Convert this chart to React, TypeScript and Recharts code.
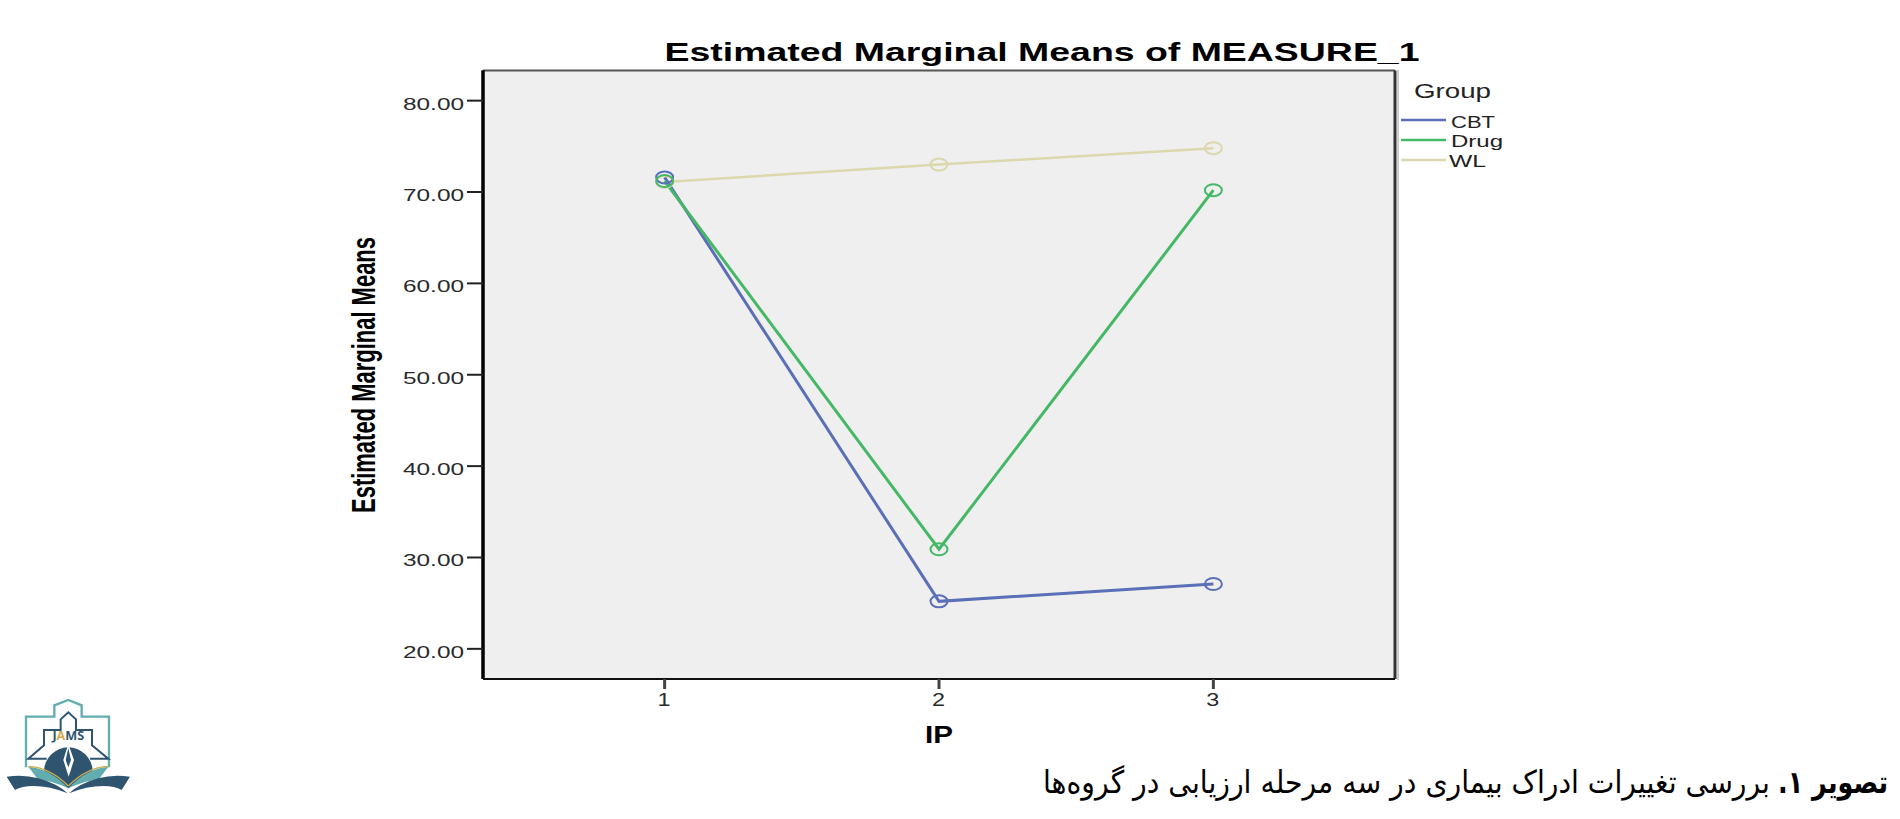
import React from "react";
import { LineChart, Line, XAxis, YAxis, ReferenceArea, ReferenceLine } from "recharts";

const ipLevels = [1, 2, 3];
const cbtValues = [71.6, 25.2, 27.1];
const drugValues = [71.2, 30.9, 70.2];
const wlValues = [71.1, 73.0, 74.8];
const yTicks = [20, 30, 40, 50, 60, 70, 80];
const yDomain = [16.7, 83.3];
const xDomain = [0.338, 3.662];
const legendItems = [
  { name: "CBT", color: "#5b6fb8", baseline: 128, y: 120, x: 1451, len: 44 },
  { name: "Drug", color: "#45b866", baseline: 147, y: 140, x: 1451, len: 52 },
  { name: "WL", color: "#dcd8ae", baseline: 167, y: 160, x: 1449, len: 37 },
];
const chartTitle = "Estimated Marginal Means of MEASURE_1";
const yTitle = "Estimated Marginal Means";
const xTitle = "IP";
const legendTitle = "Group";
const captionBold = "\u200Fتصویر ۱.\u200F";
const captionRest = "بررسی تغییرات ادراک بیماری در سه مرحله ارزیابی در گروه‌ها";

const rows = ipLevels.map((ip, i) => ({ ip, CBT: cbtValues[i], Drug: drugValues[i], WL: wlValues[i] }));
const SANS = "'Liberation Sans', Arial, sans-serif";
const ARABIC = "'DejaVu Sans', 'Noto Sans', serif";

const YTick = (p: any) => (
  <text x={403} y={p.y + 9} fontFamily={SANS} fontSize={17} fill="#2a2a2a" textLength={61} lengthAdjust="spacingAndGlyphs">
    {Number(p.payload.value).toFixed(2)}
  </text>
);
const XTick = (p: any) => (
  <text
    x={p.x - 7}
    y={706}
    fontFamily={SANS}
    fontSize={18}
    fill="#2a2a2a"
    textLength={13}
    lengthAdjust="spacingAndGlyphs"
  >
    {p.payload.value}
  </text>
);

const ellipseDot = (color: string) => (p: any) => (
  <ellipse key={p.index} cx={p.cx} cy={p.cy} rx={8.5} ry={6} fill="none" stroke={color} strokeWidth={2} />
);

const Logo = () => (
  <g transform="translate(0,680) scale(0.3333)">
    <path d="M78 262 V110 H163 V76 L205 60 L245 76 V110 H327 V262" fill="none" stroke="#62adb0" strokeWidth={7} />
    <path d="M140 236 H85 L132 196 V150 H182 V118 L205 97 L228 118 V150 H276 V196 L325 236 H270" fill="none" stroke="#2f5470" strokeWidth={6} />
    <path d="M132 275 A73 73 0 0 1 278 275 L205 325 Z" fill="#2f5470" />
    <path d="M205 192 L222 240 L206 290 L190 240 Z" fill="#ffffff" />
    <path d="M205 205 L213 240 L205 262 L197 240 Z" fill="#2f5470" />
    <path d="M85 260 Q150 265 205 325 Q150 300 115 300 Z" fill="#62adb0" />
    <path d="M325 260 Q260 265 205 325 Q260 300 295 300 Z" fill="#62adb0" />
    <path d="M85 259 Q150 262 205 318" fill="none" stroke="#d3ad4a" strokeWidth={4} />
    <path d="M325 259 Q260 262 205 318" fill="none" stroke="#d3ad4a" strokeWidth={4} />
    <path d="M20 290 Q70 282 115 295 Q170 310 203 340 Q150 318 100 318 Q65 318 45 330 Z" fill="#2f5470" />
    <path d="M390 290 Q340 282 295 295 Q240 310 207 340 Q260 318 310 318 Q345 318 365 330 Z" fill="#2f5470" />
    <text x={205} y={181} textAnchor="middle" fontFamily="'Open Sans', sans-serif" fontWeight={700} fontSize={38} fill="#2f5470">
      J<tspan fill="#d3ad4a">A</tspan>MS
    </text>
  </g>
);

export default function App() {
  return (
    <div style={{ position: "absolute", left: 0, top: 0, width: 1900, height: 819, background: "#fff" }}>
      <LineChart width={1900} height={819} data={rows} margin={{ top: 70.5, right: 505, bottom: 0, left: 0 }}>
        <XAxis
          dataKey="ip"
          type="number"
          domain={xDomain}
          ticks={ipLevels}
          allowDataOverflow
          height={140}
          tickSize={10}
          tick={XTick}
          tickLine={{ stroke: "#444", strokeWidth: 3 }}
          axisLine={{ stroke: "#111", strokeWidth: 2 }}
        />
        <YAxis
          type="number"
          domain={yDomain}
          ticks={yTicks}
          allowDataOverflow
          width={483}
          tickSize={16}
          tick={YTick}
          tickLine={{ stroke: "#222", strokeWidth: 2 }}
          axisLine={{ stroke: "#000", strokeWidth: 3 }}
        />
        <ReferenceArea x1={xDomain[0]} x2={xDomain[1]} y1={yDomain[0]} y2={yDomain[1]} fill="#efefef" fillOpacity={1} stroke="none" />
        <ReferenceLine y={yDomain[1]} stroke="#555" strokeWidth={2} />
        <ReferenceLine x={xDomain[1]} stroke="#333" strokeWidth={3} />
        <ReferenceLine y={yDomain[0]} stroke="#111" strokeWidth={2} />
        <ReferenceLine x={xDomain[0]} stroke="#000" strokeWidth={3} />
        {[
          { key: "WL", color: legendItems[2].color, width: 2.5 },
          { key: "CBT", color: legendItems[0].color, width: 3 },
          { key: "Drug", color: legendItems[1].color, width: 3 },
        ].map((s) => (
          <Line
            key={s.key}
            dataKey={s.key}
            type="linear"
            stroke={s.color}
            strokeWidth={s.width}
            dot={ellipseDot(s.color)}
            isAnimationActive={false}
            legendType="none"
          />
        ))}

        <line x1={1398} x2={1398} y1={70} y2={680} stroke="#cfcfcf" strokeWidth={2} />
        <text x={664.5} y={60.5} fontFamily={SANS} fontWeight={700} fontSize={25} fill="#000" textLength={755} lengthAdjust="spacingAndGlyphs">
          {chartTitle}
        </text>
        <text
          transform="translate(375,513) rotate(-90)"
          fontFamily={SANS}
          fontWeight={700}
          fontSize={34}
          fill="#000"
          textLength={276}
          lengthAdjust="spacingAndGlyphs"
        >
          {yTitle}
        </text>
        <text x={925} y={743} fontFamily={SANS} fontWeight={700} fontSize={24} fill="#000" textLength={28} lengthAdjust="spacingAndGlyphs">
          {xTitle}
        </text>
        <text x={1414} y={98} fontFamily={SANS} fontSize={21} fill="#222" textLength={77} lengthAdjust="spacingAndGlyphs">
          {legendTitle}
        </text>
        {legendItems.map((it) => (
          <g key={it.name}>
            <line x1={1401} x2={1446} y1={it.y} y2={it.y} stroke={it.color} strokeWidth={2.5} />
            <text x={it.x} y={it.baseline} fontFamily={SANS} fontSize={17} fill="#222" textLength={it.len} lengthAdjust="spacingAndGlyphs">
              {it.name}
            </text>
          </g>
        ))}
        <text transform="translate(1778,793) scale(1,1.3)" fontFamily={ARABIC} fontWeight={700} fontSize={24} fill="#000" textLength={110} lengthAdjust="spacingAndGlyphs">
          {captionBold}
        </text>
        <text transform="translate(1043,793) scale(1,1.3)" fontFamily={ARABIC} fontSize={24} fill="#000" textLength={727} lengthAdjust="spacingAndGlyphs">
          {captionRest}
        </text>
        <Logo />
      </LineChart>
    </div>
  );
}
